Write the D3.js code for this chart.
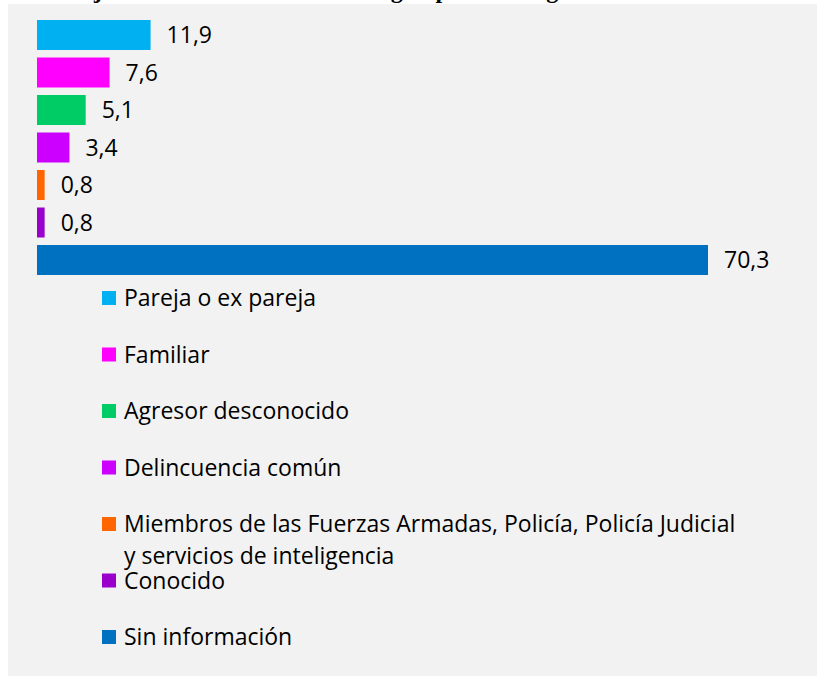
<!DOCTYPE html>
<html>
<head>
<meta charset="utf-8">
<script src="https://cdn.jsdelivr.net/npm/d3@7"></script>
<style>
  html, body { margin: 0; padding: 0; background: #ffffff; }
  svg { display: block; }
</style>
</head>
<body>
<div id="chart"></div>
<script>
'use strict';

// categories, values and colours
var categories = [
	'Pareja o ex pareja',
	'Familiar',
	'Agresor desconocido',
	'Delincuencia común',
	'Miembros de las Fuerzas Armadas, Policía, Policía Judicial|y servicios de inteligencia',
	'Conocido',
	'Sin información'
];
var values = [11.9, 7.6, 5.1, 3.4, 0.8, 0.8, 70.3];
var colors = ['#00b0f0', '#ff00ff', '#00cc66', '#cc00ff', '#ff6600', '#9900cc', '#0070c0'];
var titleText = 'Mujeres víctimas de femicidio según perfil del agresor';

var width = 817, height = 676;
var fontStack = '"Open Sans", "Noto Sans", sans-serif';

var svg = d3.select('#chart').append('svg')
	.attr('width', width)
	.attr('height', height);

// title, mostly hidden behind the panel (cropped in the source)
svg.append('text')
	.attr('x', 58)
	.attr('y', -2)
	.attr('font-family', '"Liberation Serif", serif')
	.attr('font-weight', 'bold')
	.attr('font-size', 24)
	.attr('fill', '#000')
	.text(titleText);

// grey panel
svg.append('rect')
	.attr('x', 8)
	.attr('y', 4)
	.attr('width', width - 8)
	.attr('height', height - 4)
	.attr('fill', '#f2f2f2');

// scales
var x = d3.scaleLinear()
	.domain([0, 70.3])
	.range([37, 708]);

var y = d3.scaleBand()
	.domain(d3.range(values.length))
	.range([20, 275])
	.paddingInner(0.2)
	.paddingOuter(0);

var bars = svg.append('g').attr('class', 'bars');

bars.selectAll('rect')
	.data(values)
	.enter().append('rect')
	.attr('x', x(0))
	.attr('y', function(d, i) { return y(i); })
	.attr('width', function(d) { return x(d) - x(0); })
	.attr('height', y.bandwidth())
	.attr('fill', function(d, i) { return colors[i]; });

bars.selectAll('text')
	.data(values)
	.enter().append('text')
	.attr('x', function(d) { return x(d) + 16; })
	.attr('y', function(d, i) { return y(i) + y.bandwidth() / 2; })
	.attr('dy', '0.36em')
	.attr('font-family', fontStack)
	.attr('font-size', 23)
	.attr('fill', '#000')
	.text(function(d) { return d3.format('.1f')(d).replace('.', ','); });

// legend
var legendY = d3.scaleLinear()
	.domain([0, categories.length - 1])
	.range([298, 637]);

var legend = svg.append('g').attr('class', 'legend');

var item = legend.selectAll('g')
	.data(categories)
	.enter().append('g')
	.attr('transform', function(d, i) { return 'translate(0,' + legendY(i) + ')'; });

item.append('rect')
	.attr('x', 102)
	.attr('y', -7)
	.attr('width', 14)
	.attr('height', 14)
	.attr('fill', function(d, i) { return colors[i]; });

item.append('text')
	.attr('font-family', fontStack)
	.attr('font-size', 23)
	.attr('fill', '#000')
	.each(function(d) {
		var lines = d.split('|');
		var t = d3.select(this);
		lines.forEach(function(line, k) {
			t.append('tspan')
				.attr('x', 124)
				.attr('y', k * 32)
				.attr('dy', '0.36em')
				.text(line);
		});
	});
</script>
</body>
</html>
